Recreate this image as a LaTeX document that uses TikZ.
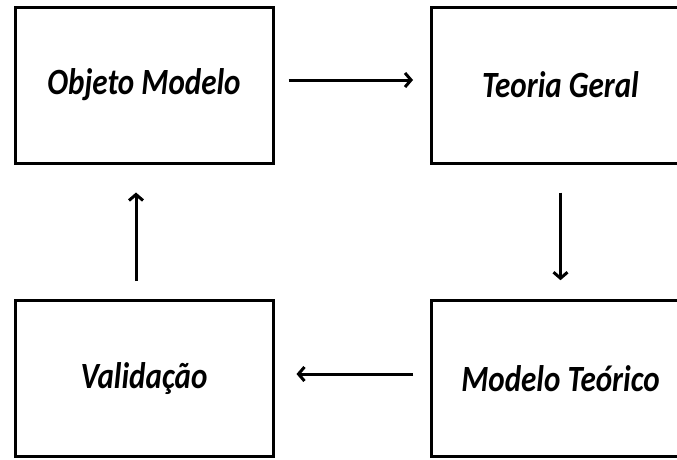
\documentclass[tikz,border=0pt]{standalone}
\usepackage{fontspec}
\setmainfont{Carlito}[FakeStretch=0.84]
\usetikzlibrary{arrows.meta}

\tikzset{
  etapa/.style={draw, line width=3pt, minimum width=258pt, minimum height=156pt,
    inner sep=0pt, font=\bfseries\itshape\fontsize{37}{40}\selectfont},
  seta/.style={line width=3pt, -{Straight Barb[length=6pt, width=14pt, line width=3pt]}}
}

\begin{document}
\begin{tikzpicture}[x=1pt, y=-1pt]
  \useasboundingbox (0,0) rectangle (677,459);
  \clip (0,0) rectangle (677,459);

  \draw[]
   (144,85) node[etapa](1) {Objeto Modelo}
   (560.5,85) node[etapa](2) {Teoria Geral}
   (144,378.7) node[etapa](3) {Validação}
   (560.5,378.7) node[etapa](4) {Modelo Teórico};

  %ciclo
  \draw[seta, shorten <=14pt, shorten >=17pt] ([yshift=5pt]1.east) -- ([yshift=5pt]2.west);
  \draw[seta, shorten <=28pt, shorten >=19pt] (2.south) -- (4.north);
  \draw[seta, shorten <=17pt, shorten >=22pt] ([yshift=4.7pt]4.west) -- ([yshift=4.7pt]3.east);
  \draw[seta, shorten <=18pt, shorten >=28pt] ([xshift=-8pt]3.north) -- ([xshift=-8pt]1.south);
\end{tikzpicture}
\end{document}
